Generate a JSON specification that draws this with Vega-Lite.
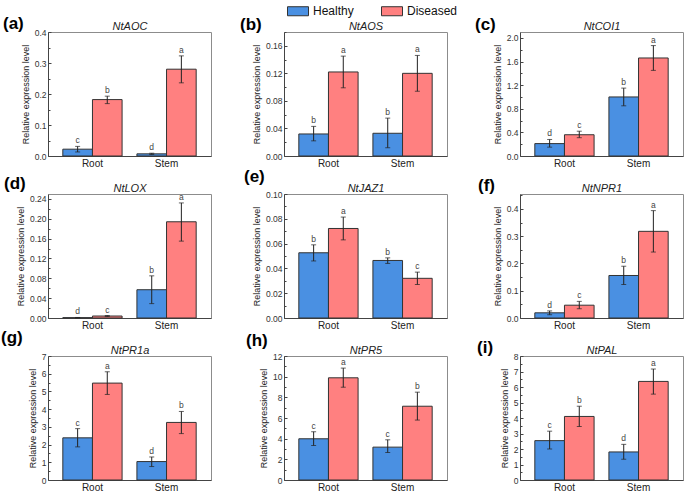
{
  "$schema": "https://vega.github.io/schema/vega-lite/v6.json",
  "background": "white",
  "padding": {"left": 0, "top": 0, "right": 0, "bottom": 0},
  "autosize": {"type": "pad"},
  "data": {"values": [
    {"p": "a", "gene": "NtAOC", "tissue": "Root", "group": "Healthy", "v": 0.022, "lo": 0.013, "hi": 0.031, "s": "c"},
    {"p": "a", "gene": "NtAOC", "tissue": "Root", "group": "Diseased", "v": 0.182, "lo": 0.169, "hi": 0.193, "s": "b"},
    {"p": "a", "gene": "NtAOC", "tissue": "Stem", "group": "Healthy", "v": 0.007, "lo": 0.005, "hi": 0.009, "s": "d"},
    {"p": "a", "gene": "NtAOC", "tissue": "Stem", "group": "Diseased", "v": 0.280, "lo": 0.236, "hi": 0.323, "s": "a"},
    {"p": "b", "gene": "NtAOS", "tissue": "Root", "group": "Healthy", "v": 0.032, "lo": 0.022, "hi": 0.043, "s": "b"},
    {"p": "b", "gene": "NtAOS", "tissue": "Root", "group": "Diseased", "v": 0.122, "lo": 0.099, "hi": 0.145, "s": "a"},
    {"p": "b", "gene": "NtAOS", "tissue": "Stem", "group": "Healthy", "v": 0.033, "lo": 0.012, "hi": 0.055, "s": "b"},
    {"p": "b", "gene": "NtAOS", "tissue": "Stem", "group": "Diseased", "v": 0.120, "lo": 0.094, "hi": 0.146, "s": "a"},
    {"p": "c", "gene": "NtCOI1", "tissue": "Root", "group": "Healthy", "v": 0.21, "lo": 0.15, "hi": 0.28, "s": "d"},
    {"p": "c", "gene": "NtCOI1", "tissue": "Root", "group": "Diseased", "v": 0.36, "lo": 0.31, "hi": 0.42, "s": "c"},
    {"p": "c", "gene": "NtCOI1", "tissue": "Stem", "group": "Healthy", "v": 1.00, "lo": 0.85, "hi": 1.15, "s": "b"},
    {"p": "c", "gene": "NtCOI1", "tissue": "Stem", "group": "Diseased", "v": 1.66, "lo": 1.45, "hi": 1.87, "s": "a"},
    {"p": "d", "gene": "NtLOX", "tissue": "Root", "group": "Healthy", "v": 0.0007, "lo": 0.0003, "hi": 0.0011, "s": "d"},
    {"p": "d", "gene": "NtLOX", "tissue": "Root", "group": "Diseased", "v": 0.004, "lo": 0.003, "hi": 0.005, "s": "c"},
    {"p": "d", "gene": "NtLOX", "tissue": "Stem", "group": "Healthy", "v": 0.057, "lo": 0.029, "hi": 0.085, "s": "b"},
    {"p": "d", "gene": "NtLOX", "tissue": "Stem", "group": "Diseased", "v": 0.194, "lo": 0.155, "hi": 0.232, "s": "a"},
    {"p": "e", "gene": "NtJAZ1", "tissue": "Root", "group": "Healthy", "v": 0.0526, "lo": 0.046, "hi": 0.059, "s": "b"},
    {"p": "e", "gene": "NtJAZ1", "tissue": "Root", "group": "Diseased", "v": 0.0722, "lo": 0.063, "hi": 0.0814, "s": "a"},
    {"p": "e", "gene": "NtJAZ1", "tissue": "Stem", "group": "Healthy", "v": 0.0464, "lo": 0.044, "hi": 0.0485, "s": "b"},
    {"p": "e", "gene": "NtJAZ1", "tissue": "Stem", "group": "Diseased", "v": 0.032, "lo": 0.027, "hi": 0.037, "s": "c"},
    {"p": "f", "gene": "NtNPR1", "tissue": "Root", "group": "Healthy", "v": 0.019, "lo": 0.012, "hi": 0.026, "s": "d"},
    {"p": "f", "gene": "NtNPR1", "tissue": "Root", "group": "Diseased", "v": 0.047, "lo": 0.034, "hi": 0.061, "s": "c"},
    {"p": "f", "gene": "NtNPR1", "tissue": "Stem", "group": "Healthy", "v": 0.156, "lo": 0.123, "hi": 0.190, "s": "b"},
    {"p": "f", "gene": "NtNPR1", "tissue": "Stem", "group": "Diseased", "v": 0.318, "lo": 0.242, "hi": 0.394, "s": "a"},
    {"p": "g", "gene": "NtPR1a", "tissue": "Root", "group": "Healthy", "v": 2.38, "lo": 1.87, "hi": 2.90, "s": "c"},
    {"p": "g", "gene": "NtPR1a", "tissue": "Root", "group": "Diseased", "v": 5.47, "lo": 4.83, "hi": 6.11, "s": "a"},
    {"p": "g", "gene": "NtPR1a", "tissue": "Stem", "group": "Healthy", "v": 1.04, "lo": 0.76, "hi": 1.30, "s": "d"},
    {"p": "g", "gene": "NtPR1a", "tissue": "Stem", "group": "Diseased", "v": 3.25, "lo": 2.62, "hi": 3.87, "s": "b"},
    {"p": "h", "gene": "NtPR5", "tissue": "Root", "group": "Healthy", "v": 3.99, "lo": 3.34, "hi": 4.67, "s": "c"},
    {"p": "h", "gene": "NtPR5", "tissue": "Root", "group": "Diseased", "v": 9.89, "lo": 8.98, "hi": 10.83, "s": "a"},
    {"p": "h", "gene": "NtPR5", "tissue": "Stem", "group": "Healthy", "v": 3.18, "lo": 2.66, "hi": 3.89, "s": "c"},
    {"p": "h", "gene": "NtPR5", "tissue": "Stem", "group": "Diseased", "v": 7.14, "lo": 5.80, "hi": 8.50, "s": "b"},
    {"p": "i", "gene": "NtPAL", "tissue": "Root", "group": "Healthy", "v": 2.54, "lo": 2.00, "hi": 3.15, "s": "c"},
    {"p": "i", "gene": "NtPAL", "tissue": "Root", "group": "Diseased", "v": 4.10, "lo": 3.45, "hi": 4.76, "s": "b"},
    {"p": "i", "gene": "NtPAL", "tissue": "Stem", "group": "Healthy", "v": 1.81, "lo": 1.34, "hi": 2.30, "s": "d"},
    {"p": "i", "gene": "NtPAL", "tissue": "Stem", "group": "Diseased", "v": 6.36, "lo": 5.54, "hi": 7.16, "s": "a"}
  ]},
  "columns": 3,
  "bounds": "flush",
  "spacing": {"row": 38, "column": 73},
  "concat": [
    {
      "transform": [{"filter": "datum.p == 'a'"}],
      "width": 163, "height": 124,
      "title": {"text": "(a)", "dx": -45, "dy": 17},
      "layer": [
        {"layer": [
          {"mark": {"type": "bar", "stroke": "#333", "strokeWidth": 1},
           "encoding": {
             "x": {"field": "tissue", "type": "nominal", "title": null},
             "xOffset": {"field": "group", "type": "nominal", "sort": ["Healthy", "Diseased"]},
             "y": {"field": "v", "type": "quantitative", "title": "Relative expression level", "scale": {"domain": [0, 0.4], "nice": false}, "axis": {"values": [0, 0.1, 0.2, 0.3, 0.4], "format": ".1f"}},
             "color": {"field": "group", "type": "nominal", "scale": {"domain": ["Healthy", "Diseased"], "range": ["#4a90e2", "#ff8080"]}}
           }},
          {"mark": {"type": "rule", "color": "#222"},
           "encoding": {"x": {"field": "tissue", "type": "nominal"}, "xOffset": {"field": "group", "type": "nominal", "sort": ["Healthy", "Diseased"]}, "y": {"field": "lo", "type": "quantitative", "title": "Relative expression level"}, "y2": {"field": "hi"}}},
          {"mark": {"type": "tick", "color": "#222", "size": 5, "thickness": 1},
           "encoding": {"x": {"field": "tissue", "type": "nominal"}, "xOffset": {"field": "group", "type": "nominal", "sort": ["Healthy", "Diseased"]}, "y": {"field": "lo", "type": "quantitative", "title": "Relative expression level"}}},
          {"mark": {"type": "tick", "color": "#222", "size": 5, "thickness": 1},
           "encoding": {"x": {"field": "tissue", "type": "nominal"}, "xOffset": {"field": "group", "type": "nominal", "sort": ["Healthy", "Diseased"]}, "y": {"field": "hi", "type": "quantitative", "title": "Relative expression level"}}},
          {"mark": {"type": "text", "baseline": "bottom", "dy": -1, "fontSize": 8.5, "color": "#444"},
           "encoding": {"x": {"field": "tissue", "type": "nominal"}, "xOffset": {"field": "group", "type": "nominal", "sort": ["Healthy", "Diseased"]}, "y": {"field": "hi", "type": "quantitative", "title": "Relative expression level"}, "text": {"field": "s"}}}
        ]},
        {"mark": {"type": "text", "opacity": 0},
         "encoding": {"x": {"field": "gene", "type": "nominal", "title": null, "axis": {"orient": "top"}}, "y": {"field": "v", "type": "quantitative", "title": null, "axis": {"orient": "left", "values": [0.05, 0.15, 0.25, 0.35], "labels": false, "domain": false, "tickSize": -2}}, "text": {"field": "gene"}}}
      ],
      "resolve": {"scale": {"x": "independent"}, "axis": {"y": "independent"}}
    },
    {
      "transform": [{"filter": "datum.p == 'b'"}],
      "width": 163, "height": 124,
      "title": {"text": "(b)", "dx": -44, "dy": 18},
      "layer": [
        {"layer": [
          {"mark": {"type": "bar", "stroke": "#333", "strokeWidth": 1},
           "encoding": {
             "x": {"field": "tissue", "type": "nominal", "title": null},
             "xOffset": {"field": "group", "type": "nominal", "sort": ["Healthy", "Diseased"]},
             "y": {"field": "v", "type": "quantitative", "title": "Relative expression level", "scale": {"domain": [0, 0.18], "nice": false}, "axis": {"values": [0, 0.04, 0.08, 0.12, 0.16], "format": ".2f"}},
             "color": {"field": "group", "type": "nominal", "scale": {"domain": ["Healthy", "Diseased"], "range": ["#4a90e2", "#ff8080"]}}
           }},
          {"mark": {"type": "rule", "color": "#222"},
           "encoding": {"x": {"field": "tissue", "type": "nominal"}, "xOffset": {"field": "group", "type": "nominal", "sort": ["Healthy", "Diseased"]}, "y": {"field": "lo", "type": "quantitative", "title": "Relative expression level"}, "y2": {"field": "hi"}}},
          {"mark": {"type": "tick", "color": "#222", "size": 5, "thickness": 1},
           "encoding": {"x": {"field": "tissue", "type": "nominal"}, "xOffset": {"field": "group", "type": "nominal", "sort": ["Healthy", "Diseased"]}, "y": {"field": "lo", "type": "quantitative", "title": "Relative expression level"}}},
          {"mark": {"type": "tick", "color": "#222", "size": 5, "thickness": 1},
           "encoding": {"x": {"field": "tissue", "type": "nominal"}, "xOffset": {"field": "group", "type": "nominal", "sort": ["Healthy", "Diseased"]}, "y": {"field": "hi", "type": "quantitative", "title": "Relative expression level"}}},
          {"mark": {"type": "text", "baseline": "bottom", "dy": -1, "fontSize": 8.5, "color": "#444"},
           "encoding": {"x": {"field": "tissue", "type": "nominal"}, "xOffset": {"field": "group", "type": "nominal", "sort": ["Healthy", "Diseased"]}, "y": {"field": "hi", "type": "quantitative", "title": "Relative expression level"}, "text": {"field": "s"}}}
        ]},
        {"mark": {"type": "text", "opacity": 0},
         "encoding": {"x": {"field": "gene", "type": "nominal", "title": null, "axis": {"orient": "top"}}, "y": {"field": "v", "type": "quantitative", "title": null, "axis": {"orient": "left", "values": [0.02, 0.06, 0.1, 0.14, 0.18], "labels": false, "domain": false, "tickSize": -2}}, "text": {"field": "gene"}}}
      ],
      "resolve": {"scale": {"x": "independent"}, "axis": {"y": "independent"}}
    },
    {
      "transform": [{"filter": "datum.p == 'c'"}],
      "width": 163, "height": 124,
      "title": {"text": "(c)", "dx": -45, "dy": 18},
      "layer": [
        {"layer": [
          {"mark": {"type": "bar", "stroke": "#333", "strokeWidth": 1},
           "encoding": {
             "x": {"field": "tissue", "type": "nominal", "title": null},
             "xOffset": {"field": "group", "type": "nominal", "sort": ["Healthy", "Diseased"]},
             "y": {"field": "v", "type": "quantitative", "title": "Relative expression level", "scale": {"domain": [0, 2.1], "nice": false}, "axis": {"values": [0, 0.4, 0.8, 1.2, 1.6, 2.0], "format": ".1f"}},
             "color": {"field": "group", "type": "nominal", "scale": {"domain": ["Healthy", "Diseased"], "range": ["#4a90e2", "#ff8080"]}}
           }},
          {"mark": {"type": "rule", "color": "#222"},
           "encoding": {"x": {"field": "tissue", "type": "nominal"}, "xOffset": {"field": "group", "type": "nominal", "sort": ["Healthy", "Diseased"]}, "y": {"field": "lo", "type": "quantitative", "title": "Relative expression level"}, "y2": {"field": "hi"}}},
          {"mark": {"type": "tick", "color": "#222", "size": 5, "thickness": 1},
           "encoding": {"x": {"field": "tissue", "type": "nominal"}, "xOffset": {"field": "group", "type": "nominal", "sort": ["Healthy", "Diseased"]}, "y": {"field": "lo", "type": "quantitative", "title": "Relative expression level"}}},
          {"mark": {"type": "tick", "color": "#222", "size": 5, "thickness": 1},
           "encoding": {"x": {"field": "tissue", "type": "nominal"}, "xOffset": {"field": "group", "type": "nominal", "sort": ["Healthy", "Diseased"]}, "y": {"field": "hi", "type": "quantitative", "title": "Relative expression level"}}},
          {"mark": {"type": "text", "baseline": "bottom", "dy": -1, "fontSize": 8.5, "color": "#444"},
           "encoding": {"x": {"field": "tissue", "type": "nominal"}, "xOffset": {"field": "group", "type": "nominal", "sort": ["Healthy", "Diseased"]}, "y": {"field": "hi", "type": "quantitative", "title": "Relative expression level"}, "text": {"field": "s"}}}
        ]},
        {"mark": {"type": "text", "opacity": 0},
         "encoding": {"x": {"field": "gene", "type": "nominal", "title": null, "axis": {"orient": "top"}}, "y": {"field": "v", "type": "quantitative", "title": null, "axis": {"orient": "left", "values": [0.2, 0.6, 1.0, 1.4, 1.8], "labels": false, "domain": false, "tickSize": -2}}, "text": {"field": "gene"}}}
      ],
      "resolve": {"scale": {"x": "independent"}, "axis": {"y": "independent"}}
    },
    {
      "transform": [{"filter": "datum.p == 'd'"}],
      "width": 163, "height": 124,
      "title": {"text": "(d)", "dx": -44, "dy": 15},
      "layer": [
        {"layer": [
          {"mark": {"type": "bar", "stroke": "#333", "strokeWidth": 1},
           "encoding": {
             "x": {"field": "tissue", "type": "nominal", "title": null},
             "xOffset": {"field": "group", "type": "nominal", "sort": ["Healthy", "Diseased"]},
             "y": {"field": "v", "type": "quantitative", "title": "Relative expression level", "scale": {"domain": [0, 0.25], "nice": false}, "axis": {"values": [0, 0.04, 0.08, 0.12, 0.16, 0.2, 0.24], "format": ".2f"}},
             "color": {"field": "group", "type": "nominal", "scale": {"domain": ["Healthy", "Diseased"], "range": ["#4a90e2", "#ff8080"]}}
           }},
          {"mark": {"type": "rule", "color": "#222"},
           "encoding": {"x": {"field": "tissue", "type": "nominal"}, "xOffset": {"field": "group", "type": "nominal", "sort": ["Healthy", "Diseased"]}, "y": {"field": "lo", "type": "quantitative", "title": "Relative expression level"}, "y2": {"field": "hi"}}},
          {"mark": {"type": "tick", "color": "#222", "size": 5, "thickness": 1},
           "encoding": {"x": {"field": "tissue", "type": "nominal"}, "xOffset": {"field": "group", "type": "nominal", "sort": ["Healthy", "Diseased"]}, "y": {"field": "lo", "type": "quantitative", "title": "Relative expression level"}}},
          {"mark": {"type": "tick", "color": "#222", "size": 5, "thickness": 1},
           "encoding": {"x": {"field": "tissue", "type": "nominal"}, "xOffset": {"field": "group", "type": "nominal", "sort": ["Healthy", "Diseased"]}, "y": {"field": "hi", "type": "quantitative", "title": "Relative expression level"}}},
          {"mark": {"type": "text", "baseline": "bottom", "dy": -1, "fontSize": 8.5, "color": "#444"},
           "encoding": {"x": {"field": "tissue", "type": "nominal"}, "xOffset": {"field": "group", "type": "nominal", "sort": ["Healthy", "Diseased"]}, "y": {"field": "hi", "type": "quantitative", "title": "Relative expression level"}, "text": {"field": "s"}}}
        ]},
        {"mark": {"type": "text", "opacity": 0},
         "encoding": {"x": {"field": "gene", "type": "nominal", "title": null, "axis": {"orient": "top"}}, "y": {"field": "v", "type": "quantitative", "title": null, "axis": {"orient": "left", "values": [0.02, 0.06, 0.1, 0.14, 0.18, 0.22], "labels": false, "domain": false, "tickSize": -2}}, "text": {"field": "gene"}}}
      ],
      "resolve": {"scale": {"x": "independent"}, "axis": {"y": "independent"}}
    },
    {
      "transform": [{"filter": "datum.p == 'e'"}],
      "width": 163, "height": 124,
      "title": {"text": "(e)", "dx": -40, "dy": 8},
      "layer": [
        {"layer": [
          {"mark": {"type": "bar", "stroke": "#333", "strokeWidth": 1},
           "encoding": {
             "x": {"field": "tissue", "type": "nominal", "title": null},
             "xOffset": {"field": "group", "type": "nominal", "sort": ["Healthy", "Diseased"]},
             "y": {"field": "v", "type": "quantitative", "title": "Relative expression level", "scale": {"domain": [0, 0.1], "nice": false}, "axis": {"values": [0, 0.02, 0.04, 0.06, 0.08, 0.1], "format": ".2f"}},
             "color": {"field": "group", "type": "nominal", "scale": {"domain": ["Healthy", "Diseased"], "range": ["#4a90e2", "#ff8080"]}}
           }},
          {"mark": {"type": "rule", "color": "#222"},
           "encoding": {"x": {"field": "tissue", "type": "nominal"}, "xOffset": {"field": "group", "type": "nominal", "sort": ["Healthy", "Diseased"]}, "y": {"field": "lo", "type": "quantitative", "title": "Relative expression level"}, "y2": {"field": "hi"}}},
          {"mark": {"type": "tick", "color": "#222", "size": 5, "thickness": 1},
           "encoding": {"x": {"field": "tissue", "type": "nominal"}, "xOffset": {"field": "group", "type": "nominal", "sort": ["Healthy", "Diseased"]}, "y": {"field": "lo", "type": "quantitative", "title": "Relative expression level"}}},
          {"mark": {"type": "tick", "color": "#222", "size": 5, "thickness": 1},
           "encoding": {"x": {"field": "tissue", "type": "nominal"}, "xOffset": {"field": "group", "type": "nominal", "sort": ["Healthy", "Diseased"]}, "y": {"field": "hi", "type": "quantitative", "title": "Relative expression level"}}},
          {"mark": {"type": "text", "baseline": "bottom", "dy": -1, "fontSize": 8.5, "color": "#444"},
           "encoding": {"x": {"field": "tissue", "type": "nominal"}, "xOffset": {"field": "group", "type": "nominal", "sort": ["Healthy", "Diseased"]}, "y": {"field": "hi", "type": "quantitative", "title": "Relative expression level"}, "text": {"field": "s"}}}
        ]},
        {"mark": {"type": "text", "opacity": 0},
         "encoding": {"x": {"field": "gene", "type": "nominal", "title": null, "axis": {"orient": "top"}}, "y": {"field": "v", "type": "quantitative", "title": null, "axis": {"orient": "left", "values": [0.01, 0.03, 0.05, 0.07, 0.09], "labels": false, "domain": false, "tickSize": -2}}, "text": {"field": "gene"}}}
      ],
      "resolve": {"scale": {"x": "independent"}, "axis": {"y": "independent"}}
    },
    {
      "transform": [{"filter": "datum.p == 'f'"}],
      "width": 163, "height": 124,
      "title": {"text": "(f)", "dx": -42, "dy": 17},
      "layer": [
        {"layer": [
          {"mark": {"type": "bar", "stroke": "#333", "strokeWidth": 1},
           "encoding": {
             "x": {"field": "tissue", "type": "nominal", "title": null},
             "xOffset": {"field": "group", "type": "nominal", "sort": ["Healthy", "Diseased"]},
             "y": {"field": "v", "type": "quantitative", "title": "Relative expression level", "scale": {"domain": [0, 0.455], "nice": false}, "axis": {"values": [0, 0.1, 0.2, 0.3, 0.4], "format": ".1f"}},
             "color": {"field": "group", "type": "nominal", "scale": {"domain": ["Healthy", "Diseased"], "range": ["#4a90e2", "#ff8080"]}}
           }},
          {"mark": {"type": "rule", "color": "#222"},
           "encoding": {"x": {"field": "tissue", "type": "nominal"}, "xOffset": {"field": "group", "type": "nominal", "sort": ["Healthy", "Diseased"]}, "y": {"field": "lo", "type": "quantitative", "title": "Relative expression level"}, "y2": {"field": "hi"}}},
          {"mark": {"type": "tick", "color": "#222", "size": 5, "thickness": 1},
           "encoding": {"x": {"field": "tissue", "type": "nominal"}, "xOffset": {"field": "group", "type": "nominal", "sort": ["Healthy", "Diseased"]}, "y": {"field": "lo", "type": "quantitative", "title": "Relative expression level"}}},
          {"mark": {"type": "tick", "color": "#222", "size": 5, "thickness": 1},
           "encoding": {"x": {"field": "tissue", "type": "nominal"}, "xOffset": {"field": "group", "type": "nominal", "sort": ["Healthy", "Diseased"]}, "y": {"field": "hi", "type": "quantitative", "title": "Relative expression level"}}},
          {"mark": {"type": "text", "baseline": "bottom", "dy": -1, "fontSize": 8.5, "color": "#444"},
           "encoding": {"x": {"field": "tissue", "type": "nominal"}, "xOffset": {"field": "group", "type": "nominal", "sort": ["Healthy", "Diseased"]}, "y": {"field": "hi", "type": "quantitative", "title": "Relative expression level"}, "text": {"field": "s"}}}
        ]},
        {"mark": {"type": "text", "opacity": 0},
         "encoding": {"x": {"field": "gene", "type": "nominal", "title": null, "axis": {"orient": "top"}}, "y": {"field": "v", "type": "quantitative", "title": null, "axis": {"orient": "left", "values": [0.05, 0.15, 0.25, 0.35, 0.45], "labels": false, "domain": false, "tickSize": -2}}, "text": {"field": "gene"}}}
      ],
      "resolve": {"scale": {"x": "independent"}, "axis": {"y": "independent"}}
    },
    {
      "transform": [{"filter": "datum.p == 'g'"}],
      "width": 163, "height": 124,
      "title": {"text": "(g)", "dx": -47, "dy": 7},
      "layer": [
        {"layer": [
          {"mark": {"type": "bar", "stroke": "#333", "strokeWidth": 1},
           "encoding": {
             "x": {"field": "tissue", "type": "nominal", "title": null},
             "xOffset": {"field": "group", "type": "nominal", "sort": ["Healthy", "Diseased"]},
             "y": {"field": "v", "type": "quantitative", "title": "Relative expression level", "scale": {"domain": [0, 7], "nice": false}, "axis": {"values": [0, 1, 2, 3, 4, 5, 6, 7], "format": "d"}},
             "color": {"field": "group", "type": "nominal", "scale": {"domain": ["Healthy", "Diseased"], "range": ["#4a90e2", "#ff8080"]}}
           }},
          {"mark": {"type": "rule", "color": "#222"},
           "encoding": {"x": {"field": "tissue", "type": "nominal"}, "xOffset": {"field": "group", "type": "nominal", "sort": ["Healthy", "Diseased"]}, "y": {"field": "lo", "type": "quantitative", "title": "Relative expression level"}, "y2": {"field": "hi"}}},
          {"mark": {"type": "tick", "color": "#222", "size": 5, "thickness": 1},
           "encoding": {"x": {"field": "tissue", "type": "nominal"}, "xOffset": {"field": "group", "type": "nominal", "sort": ["Healthy", "Diseased"]}, "y": {"field": "lo", "type": "quantitative", "title": "Relative expression level"}}},
          {"mark": {"type": "tick", "color": "#222", "size": 5, "thickness": 1},
           "encoding": {"x": {"field": "tissue", "type": "nominal"}, "xOffset": {"field": "group", "type": "nominal", "sort": ["Healthy", "Diseased"]}, "y": {"field": "hi", "type": "quantitative", "title": "Relative expression level"}}},
          {"mark": {"type": "text", "baseline": "bottom", "dy": -1, "fontSize": 8.5, "color": "#444"},
           "encoding": {"x": {"field": "tissue", "type": "nominal"}, "xOffset": {"field": "group", "type": "nominal", "sort": ["Healthy", "Diseased"]}, "y": {"field": "hi", "type": "quantitative", "title": "Relative expression level"}, "text": {"field": "s"}}}
        ]},
        {"mark": {"type": "text", "opacity": 0},
         "encoding": {"x": {"field": "gene", "type": "nominal", "title": null, "axis": {"orient": "top"}}, "y": {"field": "v", "type": "quantitative", "title": null, "axis": {"orient": "left", "values": [0.5, 1.5, 2.5, 3.5, 4.5, 5.5, 6.5], "labels": false, "domain": false, "tickSize": -2}}, "text": {"field": "gene"}}}
      ],
      "resolve": {"scale": {"x": "independent"}, "axis": {"y": "independent"}}
    },
    {
      "transform": [{"filter": "datum.p == 'h'"}],
      "width": 163, "height": 124,
      "title": {"text": "(h)", "dx": -38, "dy": 10},
      "layer": [
        {"layer": [
          {"mark": {"type": "bar", "stroke": "#333", "strokeWidth": 1},
           "encoding": {
             "x": {"field": "tissue", "type": "nominal", "title": null},
             "xOffset": {"field": "group", "type": "nominal", "sort": ["Healthy", "Diseased"]},
             "y": {"field": "v", "type": "quantitative", "title": "Relative expression level", "scale": {"domain": [0, 12], "nice": false}, "axis": {"values": [0, 2, 4, 6, 8, 10, 12], "format": "d"}},
             "color": {"field": "group", "type": "nominal", "scale": {"domain": ["Healthy", "Diseased"], "range": ["#4a90e2", "#ff8080"]}}
           }},
          {"mark": {"type": "rule", "color": "#222"},
           "encoding": {"x": {"field": "tissue", "type": "nominal"}, "xOffset": {"field": "group", "type": "nominal", "sort": ["Healthy", "Diseased"]}, "y": {"field": "lo", "type": "quantitative", "title": "Relative expression level"}, "y2": {"field": "hi"}}},
          {"mark": {"type": "tick", "color": "#222", "size": 5, "thickness": 1},
           "encoding": {"x": {"field": "tissue", "type": "nominal"}, "xOffset": {"field": "group", "type": "nominal", "sort": ["Healthy", "Diseased"]}, "y": {"field": "lo", "type": "quantitative", "title": "Relative expression level"}}},
          {"mark": {"type": "tick", "color": "#222", "size": 5, "thickness": 1},
           "encoding": {"x": {"field": "tissue", "type": "nominal"}, "xOffset": {"field": "group", "type": "nominal", "sort": ["Healthy", "Diseased"]}, "y": {"field": "hi", "type": "quantitative", "title": "Relative expression level"}}},
          {"mark": {"type": "text", "baseline": "bottom", "dy": -1, "fontSize": 8.5, "color": "#444"},
           "encoding": {"x": {"field": "tissue", "type": "nominal"}, "xOffset": {"field": "group", "type": "nominal", "sort": ["Healthy", "Diseased"]}, "y": {"field": "hi", "type": "quantitative", "title": "Relative expression level"}, "text": {"field": "s"}}}
        ]},
        {"mark": {"type": "text", "opacity": 0},
         "encoding": {"x": {"field": "gene", "type": "nominal", "title": null, "axis": {"orient": "top"}}, "y": {"field": "v", "type": "quantitative", "title": null, "axis": {"orient": "left", "values": [1, 3, 5, 7, 9, 11], "labels": false, "domain": false, "tickSize": -2}}, "text": {"field": "gene"}}}
      ],
      "resolve": {"scale": {"x": "independent"}, "axis": {"y": "independent"}}
    },
    {
      "transform": [{"filter": "datum.p == 'i'"}],
      "width": 163, "height": 124,
      "title": {"text": "(i)", "dx": -43, "dy": 17},
      "layer": [
        {"layer": [
          {"mark": {"type": "bar", "stroke": "#333", "strokeWidth": 1},
           "encoding": {
             "x": {"field": "tissue", "type": "nominal", "title": null},
             "xOffset": {"field": "group", "type": "nominal", "sort": ["Healthy", "Diseased"]},
             "y": {"field": "v", "type": "quantitative", "title": "Relative expression level", "scale": {"domain": [0, 8], "nice": false}, "axis": {"values": [0, 1, 2, 3, 4, 5, 6, 7, 8], "format": "d"}},
             "color": {"field": "group", "type": "nominal", "scale": {"domain": ["Healthy", "Diseased"], "range": ["#4a90e2", "#ff8080"]}}
           }},
          {"mark": {"type": "rule", "color": "#222"},
           "encoding": {"x": {"field": "tissue", "type": "nominal"}, "xOffset": {"field": "group", "type": "nominal", "sort": ["Healthy", "Diseased"]}, "y": {"field": "lo", "type": "quantitative", "title": "Relative expression level"}, "y2": {"field": "hi"}}},
          {"mark": {"type": "tick", "color": "#222", "size": 5, "thickness": 1},
           "encoding": {"x": {"field": "tissue", "type": "nominal"}, "xOffset": {"field": "group", "type": "nominal", "sort": ["Healthy", "Diseased"]}, "y": {"field": "lo", "type": "quantitative", "title": "Relative expression level"}}},
          {"mark": {"type": "tick", "color": "#222", "size": 5, "thickness": 1},
           "encoding": {"x": {"field": "tissue", "type": "nominal"}, "xOffset": {"field": "group", "type": "nominal", "sort": ["Healthy", "Diseased"]}, "y": {"field": "hi", "type": "quantitative", "title": "Relative expression level"}}},
          {"mark": {"type": "text", "baseline": "bottom", "dy": -1, "fontSize": 8.5, "color": "#444"},
           "encoding": {"x": {"field": "tissue", "type": "nominal"}, "xOffset": {"field": "group", "type": "nominal", "sort": ["Healthy", "Diseased"]}, "y": {"field": "hi", "type": "quantitative", "title": "Relative expression level"}, "text": {"field": "s"}}}
        ]},
        {"mark": {"type": "text", "opacity": 0},
         "encoding": {"x": {"field": "gene", "type": "nominal", "title": null, "axis": {"orient": "top"}}, "y": {"field": "v", "type": "quantitative", "title": null, "axis": {"orient": "left", "values": [0.5, 1.5, 2.5, 3.5, 4.5, 5.5, 6.5, 7.5], "labels": false, "domain": false, "tickSize": -2}}, "text": {"field": "gene"}}}
      ],
      "resolve": {"scale": {"x": "independent"}, "axis": {"y": "independent"}}
    }
  ],
  "config": {
    "font": "Liberation Sans",
    "view": {"stroke": "#8c8c8c", "strokeWidth": 1},
    "axis": {"grid": false, "labelColor": "#333", "domainColor": "#444", "tickColor": "#444", "titleFontWeight": "normal", "titleColor": "#222", "labelOverlap": false, "labelFlush": false},
    "axisLeft": {"labelFontSize": 8.5, "tickSize": -3, "tickCount": 40, "labelPadding": 5, "titleFontSize": 9, "titlePadding": 4},
    "axisBottom": {"labelFontSize": 10, "labelColor": "#222", "ticks": false, "labelPadding": 2, "labelAngle": 0},
    "axisTop": {"labelFontSize": 11, "labelColor": "#222", "labelFontStyle": "italic", "ticks": false, "domain": false, "labelPadding": 1, "labelAngle": 0},
    "title": {"fontSize": 17, "fontWeight": "bold", "anchor": "start", "frame": "group", "baseline": "alphabetic", "offset": 0, "color": "#000"},
    "scale": {"bandPaddingInner": 0.36, "bandPaddingOuter": 0.43, "offsetBandPaddingInner": 0, "offsetBandPaddingOuter": 0},
    "legend": {"orient": "none", "direction": "horizontal", "legendX": 239, "legendY": -32, "title": null, "labelFontSize": 12, "labelColor": "#111", "symbolType": "M-1,-0.43H1V0.43H-1Z", "symbolSize": 441, "symbolStrokeColor": "#333", "symbolStrokeWidth": 1, "symbolOpacity": 1, "columnPadding": 25, "labelOffset": 4}
  }
}
